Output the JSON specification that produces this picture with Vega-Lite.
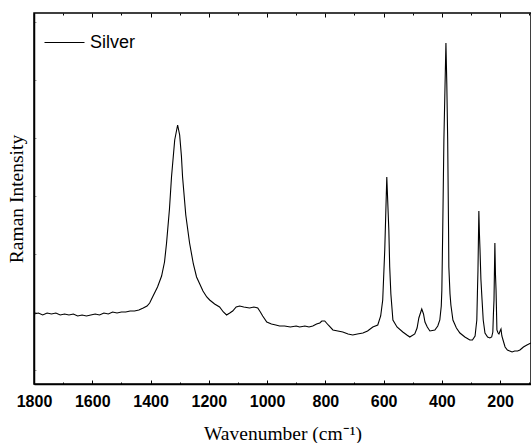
{
  "$schema": "https://vega.github.io/schema/vega-lite/v6.json",
  "width": 497,
  "height": 371,
  "autosize": {"type": "none"},
  "padding": {"left": 34, "top": 13, "right": 0, "bottom": 59},
  "background": "white",
  "config": {
    "view": {"stroke": "black", "strokeWidth": 1.5},
    "axis": {"grid": false, "domainColor": "black", "tickColor": "black", "domainWidth": 1.5, "tickWidth": 1}
  },
  "data": {
    "values": [
      {"w":1800,"I":70},{"w":1785,"I":71},{"w":1770,"I":69},{"w":1755,"I":71},{"w":1740,"I":70},{"w":1725,"I":71},{"w":1710,"I":69},{"w":1695,"I":70},{"w":1680,"I":69},{"w":1665,"I":70},{"w":1650,"I":68},{"w":1635,"I":69},{"w":1620,"I":68},{"w":1605,"I":69},{"w":1590,"I":70},{"w":1575,"I":69},{"w":1560,"I":71},{"w":1545,"I":70},{"w":1530,"I":72},{"w":1515,"I":71},{"w":1500,"I":72},{"w":1485,"I":72},{"w":1470,"I":73},{"w":1455,"I":73},{"w":1440,"I":74},{"w":1425,"I":76},{"w":1412,"I":78},{"w":1403,"I":81},{"w":1393,"I":87},{"w":1376,"I":97},{"w":1362,"I":108},{"w":1352,"I":122},{"w":1345,"I":141},{"w":1335,"I":175},{"w":1328,"I":207},{"w":1317,"I":244},{"w":1307,"I":259},{"w":1300,"I":249},{"w":1294,"I":228},{"w":1290,"I":207},{"w":1279,"I":169},{"w":1266,"I":141},{"w":1253,"I":120},{"w":1242,"I":107},{"w":1231,"I":100},{"w":1220,"I":93},{"w":1207,"I":87},{"w":1197,"I":84},{"w":1180,"I":80},{"w":1163,"I":77},{"w":1150,"I":72},{"w":1139,"I":69},{"w":1128,"I":71},{"w":1118,"I":73},{"w":1106,"I":77},{"w":1094,"I":78},{"w":1080,"I":77},{"w":1060,"I":76},{"w":1045,"I":77},{"w":1032,"I":76},{"w":1023,"I":72},{"w":1015,"I":68},{"w":1001,"I":62},{"w":985,"I":60},{"w":970,"I":59},{"w":957,"I":58},{"w":940,"I":58},{"w":920,"I":57},{"w":900,"I":58},{"w":888,"I":57},{"w":870,"I":58},{"w":856,"I":57},{"w":843,"I":58},{"w":830,"I":60},{"w":819,"I":61},{"w":812,"I":63},{"w":802,"I":63},{"w":790,"I":59},{"w":774,"I":54},{"w":757,"I":53},{"w":740,"I":52},{"w":722,"I":50},{"w":706,"I":49},{"w":690,"I":50},{"w":671,"I":51},{"w":655,"I":53},{"w":637,"I":57},{"w":620,"I":59},{"w":610,"I":68},{"w":603,"I":84},{"w":596,"I":134},{"w":589,"I":207},{"w":582,"I":154},{"w":579,"I":117},{"w":575,"I":90},{"w":568,"I":64},{"w":554,"I":57},{"w":534,"I":52},{"w":520,"I":49},{"w":510,"I":47},{"w":493,"I":50},{"w":485,"I":56},{"w":479,"I":66},{"w":469,"I":75},{"w":463,"I":70},{"w":458,"I":62},{"w":450,"I":57},{"w":441,"I":53},{"w":424,"I":54},{"w":414,"I":58},{"w":407,"I":64},{"w":402,"I":78},{"w":400,"I":94},{"w":397,"I":154},{"w":393,"I":244},{"w":389,"I":300},{"w":386,"I":341},{"w":383,"I":300},{"w":380,"I":244},{"w":377,"I":154},{"w":376,"I":117},{"w":372,"I":90},{"w":369,"I":79},{"w":362,"I":64},{"w":350,"I":56},{"w":338,"I":51},{"w":321,"I":47},{"w":304,"I":44},{"w":295,"I":44},{"w":286,"I":48},{"w":283,"I":56},{"w":280,"I":64},{"w":278,"I":90},{"w":276,"I":114},{"w":273,"I":173},{"w":271,"I":150},{"w":269,"I":134},{"w":266,"I":105},{"w":262,"I":84},{"w":258,"I":64},{"w":252,"I":51},{"w":243,"I":47},{"w":235,"I":46},{"w":229,"I":47},{"w":225,"I":52},{"w":223,"I":70},{"w":221,"I":84},{"w":218,"I":141},{"w":216,"I":110},{"w":214,"I":94},{"w":211,"I":54},{"w":207,"I":51},{"w":204,"I":50},{"w":200,"I":53},{"w":197,"I":55},{"w":194,"I":48},{"w":190,"I":44},{"w":183,"I":37},{"w":175,"I":34},{"w":167,"I":33},{"w":159,"I":32},{"w":150,"I":33},{"w":140,"I":33},{"w":132,"I":34},{"w":120,"I":37},{"w":108,"I":39},{"w":94,"I":41}
    ]
  },
  "layer": [
    {
      "mark": {"type": "line", "color": "black", "strokeWidth": 1.1},
      "encoding": {
        "x": {
          "field": "w", "type": "quantitative",
          "scale": {"domain": [94, 1800], "reverse": true, "nice": false, "zero": false},
          "axis": {
            "orient": "bottom",
            "values": [100,200,300,400,500,600,700,800,900,1000,1100,1200,1300,1400,1500,1600,1700,1800],
            "labelExpr": "datum.value % 200 === 0 ? datum.label : ''",
            "format": "d",
            "tickSize": {"condition": {"test": "datum.value % 200 === 0", "value": -4}, "value": -2},
            "labelFont": "Liberation Sans", "labelFontWeight": "bold", "labelFontSize": 16, "labelColor": "black",
            "labelPadding": 13, "labelFlush": false, "labelOverlap": false,
            "title": "Wavenumber (cm⁻¹)",
            "titleFont": "Liberation Serif", "titleFontSize": 19.5, "titleFontWeight": "normal", "titleColor": "black",
            "titleY": 55, "titleBaseline": "alphabetic"
          }
        },
        "y": {
          "field": "I", "type": "quantitative",
          "scale": {"domain": [0, 371], "nice": false, "zero": false},
          "axis": {
            "orient": "left",
            "values": [14, 43, 72, 101, 130, 159, 188, 217, 246, 275, 304, 333, 362],
            "labels": false,
            "tickSize": -2, "tickColor": "#999999",
            "title": "Raman Intensity",
            "titleFont": "Liberation Serif", "titleFontSize": 19.5, "titleFontWeight": "normal", "titleColor": "black",
            "titleX": -12, "titleBaseline": "alphabetic", "titleAngle": -90, "titleAlign": "center"
          }
        },
        "color": {
          "datum": "Silver",
          "scale": {"range": ["black"]},
          "legend": {
            "orient": "none", "legendX": 10, "legendY": 9, "title": null, "padding": 0,
            "symbolType": "stroke", "symbolSize": 1600, "symbolStrokeWidth": 1, "symbolStrokeColor": "black",
            "labelFont": "Liberation Sans", "labelFontSize": 18, "labelColor": "black", "labelOffset": 5
          }
        }
      }
    },
    {
      "mark": {"type": "line", "strokeOpacity": 0},
      "encoding": {
        "x": {
          "field": "w", "type": "quantitative",
          "axis": {
            "orient": "top",
            "values": [100,200,300,400,500,600,700,800,900,1000,1100,1200,1300,1400,1500,1600,1700,1800],
            "labels": false, "title": null, "domain": false,
            "tickSize": {"condition": {"test": "datum.value % 200 === 0", "value": -4}, "value": -2}
          }
        },
        "y": {"field": "I", "type": "quantitative"}
      }
    }
  ],
  "resolve": {"axis": {"x": "independent"}}
}
